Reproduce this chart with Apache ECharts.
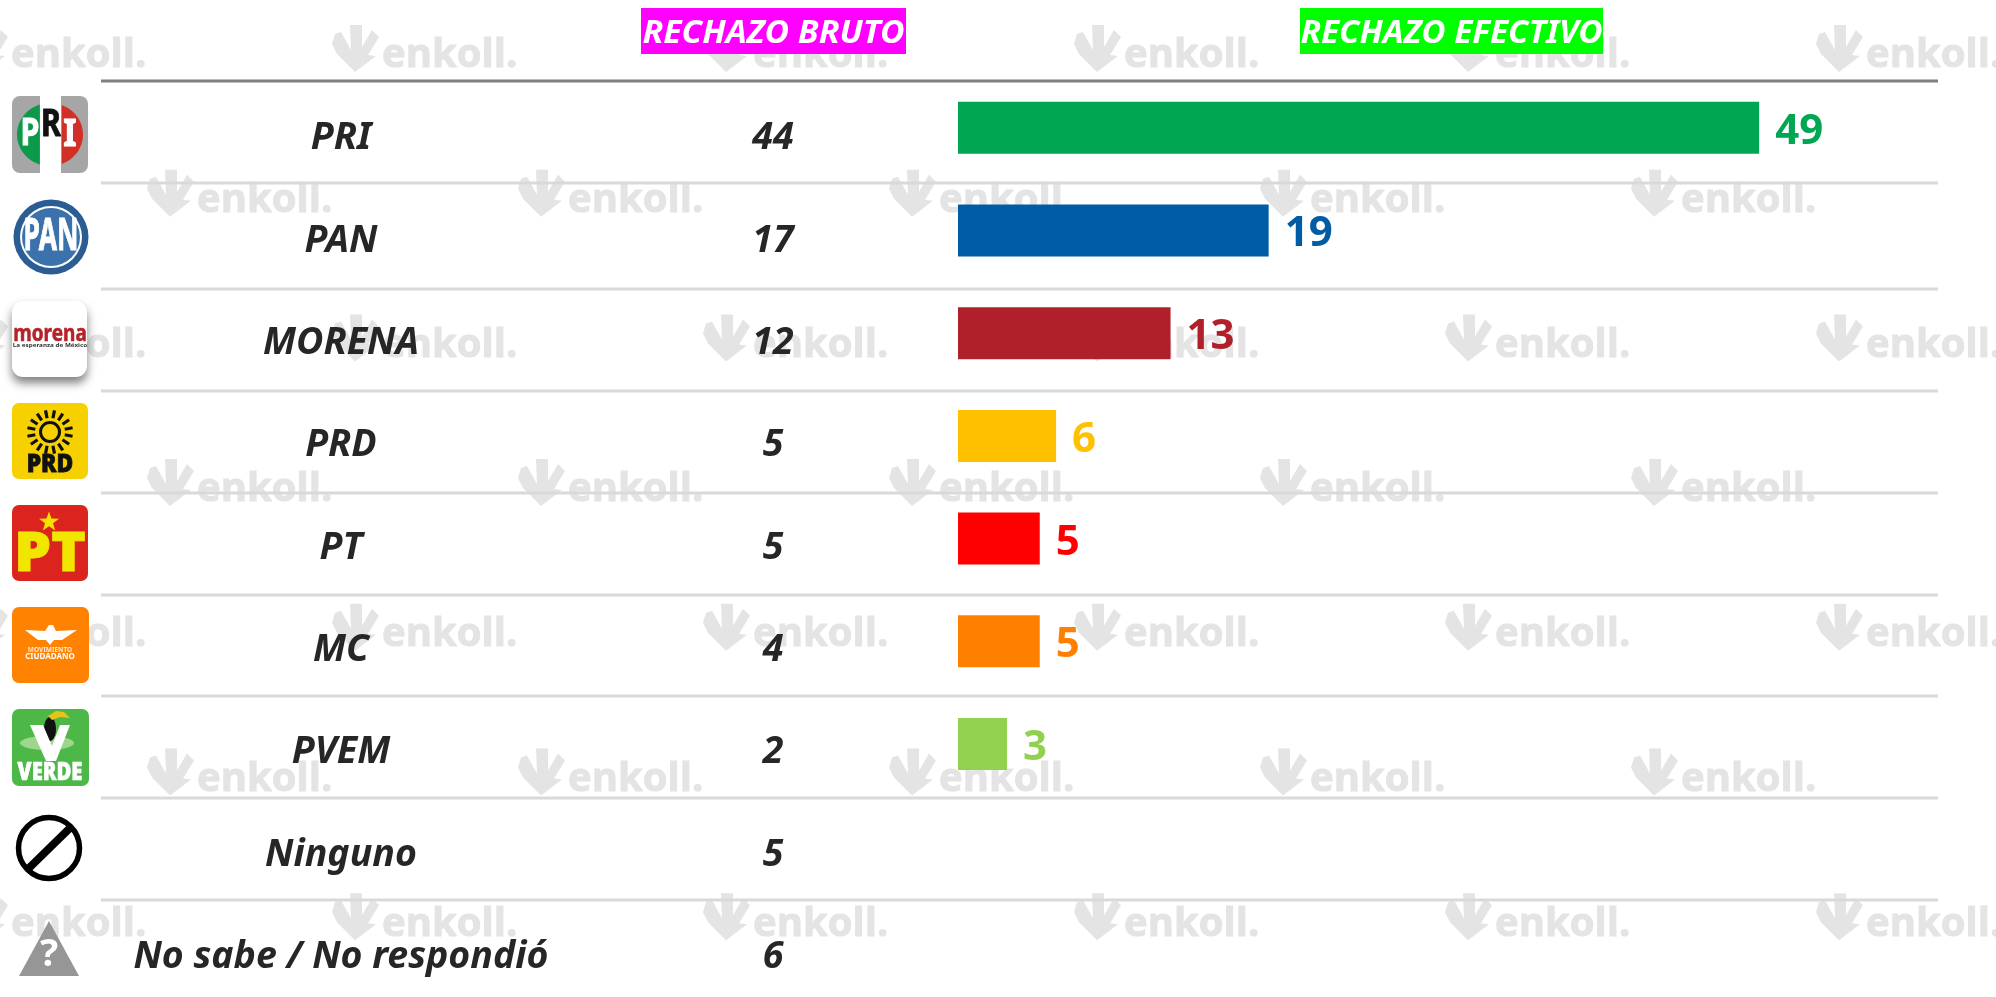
<!DOCTYPE html>
<html>
<head>
<meta charset="utf-8">
<title>Rechazo partidos</title>
<script src="https://cdn.jsdelivr.net/npm/echarts@6/dist/echarts.min.js"></script>
<style>html,body{margin:0;padding:0;background:#fff}#c{width:1996px;height:997px}</style>
</head>
<body>
<div id="c"></div>
<script>
// ---- data ----
const partidos = ['PRI','PAN','MORENA','PRD','PT','MC','PVEM','Ninguno','No sabe / No respondió'];
const rechazoBruto = [44,17,12,5,5,4,2,5,6];
const partidosEfectivo = ['PRI','PAN','MORENA','PRD','PT','MC','PVEM'];
const rechazoEfectivo = [49,19,13,6,5,5,3];
const coloresEfectivo = ['#00A651','#005CA5','#B0202B','#FFC000','#FF0000','#FF8000','#92D050'];
const tituloBruto = 'RECHAZO BRUTO';
const tituloEfectivo = 'RECHAZO EFECTIVO';
const marcaAgua = 'enkoll.';

// ---- page furniture ----
const FONT = '"Noto Sans"';
const INK = '#262626';
const separadores = [183,289,391,493,595,696,798,900];
const g = [];
const rect = (x,y,w,h,r,fill,extra) => g.push({type:'rect',shape:{x,y,width:w,height:h,r},style:Object.assign({fill},extra||{}),z:1});
const poly = (points,fill,z) => g.push({type:'polygon',shape:{points},style:{fill},z:z==null?1:z});
const txt = (x,y,t,size,fill,sx,sy,weight,italic,z,stroke) => g.push({type:'text',x,y,scaleX:sx||1,scaleY:sy||1,z:z==null?2:z,
  style:Object.assign({text:t,x:0,y:0,align:'center',verticalAlign:'middle',fontFamily:FONT,fontSize:size,fontWeight:weight||'bold',fontStyle:italic?'italic':'normal',fill},stroke?{stroke:fill,lineWidth:stroke}:{})});
const circ = (cx,cy,r,fill,extra) => g.push({type:'circle',shape:{cx,cy,r},style:Object.assign({fill},extra||{}),z:1});
const ell = (cx,cy,rx,ry,fill) => g.push({type:'ellipse',shape:{cx,cy,rx,ry},style:{fill},z:1});
function capEllipse(cx,cy,rx,ry,xCut,side){
  const pts=[];
  for(let i=0;i<=60;i++){
    const a=-Math.PI/2+i*Math.PI/60, px=cx+side*rx*Math.cos(a), py=cy+ry*Math.sin(a);
    if(side*(px-xCut)>=0) pts.push([px,py]);
  }
  return pts;
}

// watermark
for (let j=0;j<7;j++){
  const top = 24 + 144.7*j;
  const first = j%2===0 ? -39 : -224;
  for (let k=0;k<7;k++){
    const x0 = first + 371*k;
    if (x0>2000) continue;
    const P=[[18,1],[30,1],[30,23],[40,6],[47,13],[36,31],[44,32],[23,48],[5,30],[0,20],[3,10],[9,8],[19,26]];
    poly(P.map(p=>[x0+p[0],top+p[1]]),'#e4e4e4',-2);
    g.push({type:'text',x:x0+50,y:top+52,z:-2,style:{text:marcaAgua,x:0,y:0,align:'left',verticalAlign:'bottom',fontFamily:'"Open Sans"',fontWeight:'bold',fontSize:40,fill:'#e4e4e4',stroke:'#e4e4e4',lineWidth:1}});
  }
}
// separators
g.push({type:'line',shape:{x1:101,y1:81,x2:1938,y2:81},style:{stroke:'#7f7f7f',lineWidth:3},z:-1});
separadores.forEach(y=>g.push({type:'line',shape:{x1:101,y1:y,x2:1938,y2:y},style:{stroke:'#d9d9d9',lineWidth:3},z:-1}));
// headers
rect(641,8,265,46,0,'#FF00FF');
rect(1300,8,303,46,0,'#00FF00');
txt(773.5,34,tituloBruto,32,'#ffffff',1.05,1,'bold',true);
txt(1451.5,34,tituloEfectivo,32,'#ffffff',1.04,1,'bold',true);

// PRI logo
rect(12,96,76,77,8,'#a6a6a6');
rect(40,96,21,77,0,'#ffffff');
poly(capEllipse(50,134.5,33,31.5,40,-1),'#0b9a4a');
poly(capEllipse(50,134.5,33,31.5,61,1),'#d22f27');
txt(30,134,'P',38,'#ffffff',0.8,1,'bold',false,2,1);
txt(51,125,'R',38,'#111111',0.8,1,'bold',false,2,1);
txt(70,135,'I',38,'#ffffff',0.9,1,'bold',false,2,1);
// PAN logo
circ(51,237,37.5,'#2b5c93');
circ(51,237,31,'#ffffff');
circ(51,237,29,'#3b72ab');
txt(51,237,'PAN',44,'#ffffff',0.6,1,'bold',false,2,1);
// MORENA logo
rect(12,301,75,76,11,'#ffffff',{shadowBlur:10,shadowOffsetY:6,shadowColor:'rgba(0,0,0,0.5)'});
txt(50,334,'morena',20,'#b5232a',0.95,1.15,'bold',false,2,0.5);
txt(50,345,'La esperanza de México',6,'#333333',1.05,1);
// PRD logo
rect(12,403,76,76,7,'#F7D000');
for(let i=0;i<16;i++){
  const a=i*Math.PI/8+Math.PI/16,c=Math.cos(a),s=Math.sin(a);
  g.push({type:'line',shape:{x1:50+15*c,y1:432+14*s,x2:50+23*c,y2:432+22*s},style:{stroke:'#111',lineWidth:3.2},z:1});
}
g.push({type:'circle',shape:{cx:50,cy:432,r:9.5},style:{fill:'none',stroke:'#111',lineWidth:3},z:1});
txt(50,465,'PRD',24,'#111111',0.95,1.05,'900',false,2,0.8);
// PT logo
rect(12,505,76,76,7,'#DC241F');
(function(){const pts=[];for(let i=0;i<10;i++){const r=i%2?4.2:10.5,a=-Math.PI/2+i*Math.PI/5;pts.push([49+r*Math.cos(a),522+r*Math.sin(a)]);}
  poly(pts,'#F5E000');})();
txt(50,555,'PT',54,'#F0E600',1.08,1.02,'900',false,2,1);
// MC logo
rect(12,607,77,76,7,'#FF8300');
poly([[25,630],[45,631],[49,625],[53,625],[56,631],[77,630],[62,640],[54,640],[50,645],[46,640],[38,640]],'#ffffff');
txt(50,650,'MOVIMIENTO',6.5,'#ffe8cc');
txt(50,657,'CIUDADANO',8,'#ffffff');
// VERDE logo
rect(12,709,77,77,7,'#4DB848');
ell(47,743,27,7,'#9ed68c');
ell(50,729,6,12,'#111111');
poly([[48,716],[56,711],[64,712],[70,718],[60,717],[52,720]],'#e3c51c');
poly([[30,725],[43,725],[52,746],[60,725],[70,725],[56,761],[46,761]],'#ffffff');
txt(50,773,'VERDE',23,'#ffffff',0.88,1.1,'900',false,2,0.6);
// Ninguno logo
g.push({type:'circle',shape:{cx:49,cy:848,r:30.5},style:{fill:'#ffffff',stroke:'#000',lineWidth:5.5},z:1});
g.push({type:'line',shape:{x1:28,y1:869,x2:71,y2:827},style:{stroke:'#000',lineWidth:8},z:1});
// NS/NR logo
poly([[49,921],[79,976],[19,976]],'#969696');
txt(49,955,'?',38,'#ffffff');

// ---- chart ----
const chart = echarts.init(document.getElementById('c'),null,{renderer:'canvas',width:1996,height:997});
chart.setOption({
  animation:false,
  backgroundColor:'#ffffff',
  graphic:{elements:g},
  grid:[
    {left:958,width:981,top:76.4,height:719},            // effective bars
    {left:600,width:346,top:138.5,height:819}            // names + raw values (first to last row centre)
  ],
  xAxis:[
    {gridIndex:0,type:'value',min:0,max:60,show:false,splitLine:{show:false}},
    {gridIndex:1,type:'category',data:['Rechazo bruto'],show:false}
  ],
  yAxis:[
    {gridIndex:0,type:'category',inverse:true,data:partidosEfectivo,show:false},
    {gridIndex:1,type:'category',inverse:true,boundaryGap:false,data:partidos,
      axisLine:{show:false},axisTick:{show:false},splitLine:{show:false},
      axisLabel:{show:true,margin:259,align:'center',verticalAlign:'middle',interval:0,color:INK,fontFamily:FONT,fontSize:37.5,fontWeight:'bold',fontStyle:'italic'}}
  ],
  series:[
    {type:'bar',name:'Rechazo efectivo',xAxisIndex:0,yAxisIndex:0,barWidth:52,
      data:rechazoEfectivo.map((v,i)=>({value:v,itemStyle:{color:coloresEfectivo[i]},
        label:{color:coloresEfectivo[i]}})),
      label:{show:true,position:'right',distance:16,fontFamily:FONT,fontSize:42,fontWeight:'bold',offset:[0,4]}},
    {type:'scatter',name:'Rechazo bruto',xAxisIndex:1,yAxisIndex:1,symbolSize:1,itemStyle:{color:'transparent',opacity:1},
      data:rechazoBruto.map((v,i)=>[0,i,v]),
      encode:{x:0,y:1},
      label:{show:true,position:'inside',formatter:p=>p.value[2],color:INK,fontFamily:FONT,fontSize:37.5,fontWeight:'bold',fontStyle:'italic'}}
  ]
});
</script>
</body>
</html>
